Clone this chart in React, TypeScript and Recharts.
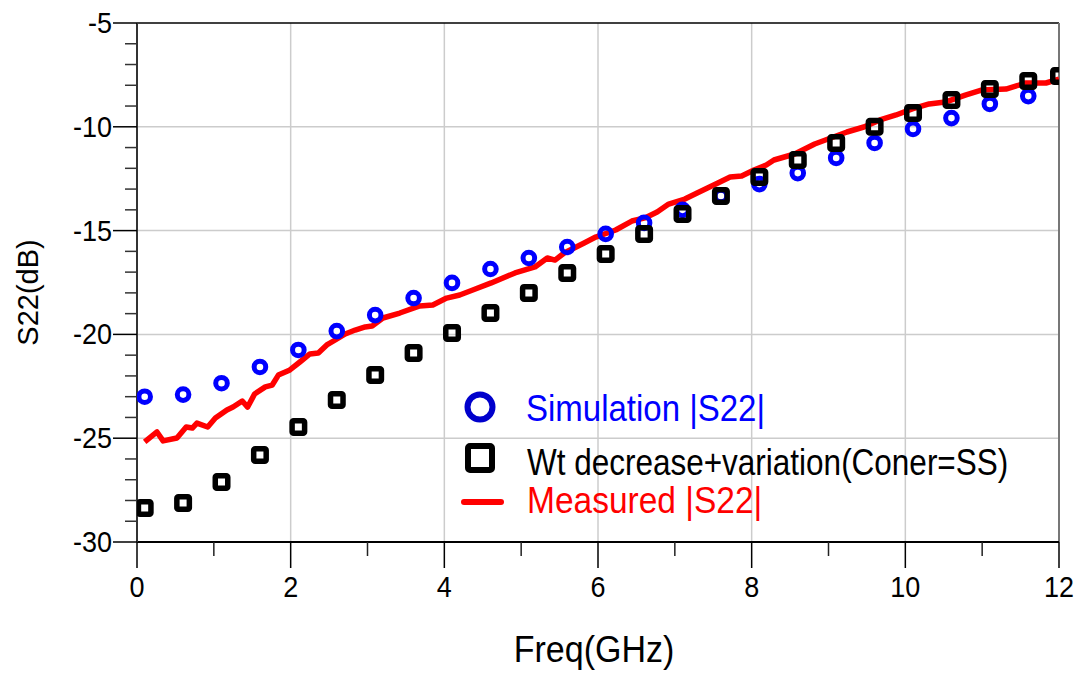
import React from "react";
import {
  ComposedChart,
  XAxis,
  YAxis,
  CartesianGrid,
  Scatter,
  Line,
  Legend,
  ReferenceLine,
  Label,
} from "recharts";

// ---- data ----
const simFreq = [0.1, 0.6, 1.1, 1.6, 2.1, 2.6, 3.1, 3.6, 4.1, 4.6, 5.1, 5.6, 6.1, 6.6, 7.1, 7.6, 8.1, 8.6, 9.1, 9.6, 10.1, 10.6, 11.1, 11.6];
const simS22 = [-23.0, -22.9, -22.35, -21.57, -20.75, -19.84, -19.07, -18.25, -17.52, -16.85, -16.32, -15.79, -15.16, -14.63, -14.0, -13.33, -12.76, -12.23, -11.5, -10.78, -10.1, -9.58, -8.9, -8.52];

const wtFreq = [0.1, 0.6, 1.1, 1.6, 2.1, 2.6, 3.1, 3.6, 4.1, 4.6, 5.1, 5.6, 6.1, 6.6, 7.1, 7.6, 8.1, 8.6, 9.1, 9.6, 10.1, 10.6, 11.1, 11.6, 12.0];
const wtS22 = [-28.36, -28.12, -27.11, -25.81, -24.46, -23.16, -21.96, -20.9, -19.93, -18.97, -18.0, -17.04, -16.13, -15.16, -14.2, -13.33, -12.42, -11.6, -10.78, -10.0, -9.34, -8.71, -8.18, -7.79, -7.55];

const measFreq = [0.1, 0.26, 0.34, 0.52, 0.64, 0.72, 0.78, 0.92, 1.02, 1.17, 1.25, 1.37, 1.44, 1.53, 1.67, 1.76, 1.84, 1.99, 2.12, 2.25, 2.36, 2.47, 2.58, 2.71, 2.84, 2.97, 3.06, 3.2, 3.42, 3.68, 3.85, 4.03, 4.2, 4.37, 4.61, 4.92, 5.18, 5.34, 5.44, 5.56, 5.82, 5.97, 6.23, 6.44, 6.61, 6.77, 6.92, 7.13, 7.29, 7.56, 7.72, 7.87, 8.03, 8.19, 8.29, 8.56, 8.82, 9.03, 9.24, 9.46, 9.67, 9.88, 10.09, 10.31, 10.52, 10.78, 10.99, 11.31, 11.57, 11.83, 12.0];
const measS22 = [-25.18, -24.7, -25.13, -24.99, -24.46, -24.51, -24.27, -24.46, -24.03, -23.64, -23.5, -23.21, -23.5, -22.87, -22.53, -22.44, -21.96, -21.71, -21.33, -20.94, -20.9, -20.51, -20.27, -19.98, -19.79, -19.64, -19.6, -19.21, -18.97, -18.63, -18.58, -18.25, -18.1, -17.86, -17.52, -17.04, -16.75, -16.32, -16.42, -16.08, -15.6, -15.31, -14.97, -14.54, -14.39, -14.1, -13.72, -13.48, -13.19, -12.71, -12.42, -12.37, -12.08, -11.84, -11.6, -11.31, -10.83, -10.54, -10.25, -10.01, -9.67, -9.43, -9.14, -8.9, -8.81, -8.47, -8.23, -8.18, -7.89, -7.89, -7.7];

const xTicks = [0, 1, 2, 3, 4, 5, 6, 7, 8, 9, 10, 11, 12];
const yTicks = [-30, -29, -28, -27, -26, -25, -24, -23, -22, -21, -20, -19, -18, -17, -16, -15, -14, -13, -12, -11, -10, -9, -8, -7, -6, -5];
const xGrid = [2, 4, 6, 8, 10];
const yGrid = [-25, -20, -15, -10];

const simLabel = "Simulation |S22|";
const wtLabel = "Wt decrease+variation(Coner=SS)";
const measLabel = "Measured |S22|";

const simData = simFreq.map((x, i) => ({ x, y: simS22[i] }));
const wtData = wtFreq.map((x, i) => ({ x, y: wtS22[i] }));
const measData = measFreq.map((x, i) => ({ x, y: measS22[i] }));

const FONT = "'Liberation Sans', Arial, Helvetica, sans-serif";

function XTick(props: any) {
  const { x, y, payload } = props;
  const v = payload.value;
  const major = v % 2 === 0;
  return (
    <g>
      <line x1={x} x2={x} y1={y} y2={y + (major ? 26 : 14)} stroke={major ? "#000" : "#222"} strokeWidth={1.5} />
      {major && (
        <g transform={`translate(${x},${y + 55}) scale(1,1.08)`}>
          <text x={0} y={0} textAnchor="middle" fontSize={27} fontFamily={FONT} fill="#000">
            {v}
          </text>
        </g>
      )}
    </g>
  );
}

function YTick(props: any) {
  const { x, y, payload } = props;
  const v = payload.value;
  const major = v % 5 === 0;
  return (
    <g>
      <line x1={x} x2={x - (major ? 24 : 12)} y1={y} y2={y} stroke={major ? "#000" : "#333"} strokeWidth={1.5} />
      {major && (
        <g transform={`translate(${x - 25},${y + 10}) scale(1,1.08)`}>
          <text x={0} y={0} textAnchor="end" fontSize={27} fontFamily={FONT} fill="#000">
            {v}
          </text>
        </g>
      )}
    </g>
  );
}

function CircleShape(props: any) {
  const { cx, cy } = props;
  if (cx == null || cy == null) return null;
  return <circle cx={cx} cy={cy} r={5.8} fill="none" stroke="#0000ff" strokeWidth={5} />;
}

function SquareShape(props: any) {
  const { cx, cy } = props;
  if (cx == null || cy == null) return null;
  const s = 12.5;
  return (
    <rect x={cx - s / 2} y={cy - s / 2} width={s} height={s} rx={1.5} fill="none" stroke="#000" strokeWidth={5.5} strokeLinejoin="round" />
  );
}

function LegendContent() {
  return (
    <svg width={640} height={145} style={{ display: "block", overflow: "visible" }}>
      <circle cx={40} cy={27} r={12.5} fill="none" stroke="#0000cc" strokeWidth={6} />
      <g transform="translate(86,41) scale(1,1.14)">
        <text x={0} y={0} fontSize={33} fontFamily={FONT} fill="#0000ff">{simLabel}</text>
      </g>
      <rect x={28} y={66} width={24} height={24} rx={2} fill="none" stroke="#000" strokeWidth={6} strokeLinejoin="round" />
      <g transform="translate(87,95) scale(1,1.17)">
        <text x={0} y={0} fontSize={31.5} fontFamily={FONT} fill="#000">{wtLabel}</text>
      </g>
      <line x1={24} x2={61} y1={122} y2={122} stroke="#ff0000" strokeWidth={6} strokeLinecap="round" />
      <g transform="translate(87,133) scale(1,1.1)">
        <text x={0} y={0} fontSize={33.5} fontFamily={FONT} fill="#ff0000">{measLabel}</text>
      </g>
    </svg>
  );
}

function XTitle(props: any) {
  const vb = props.viewBox || {};
  return (
    <g transform={`translate(${vb.x + vb.width / 2 - 4},${vb.y + 120}) scale(1,1.08)`}>
      <text x={0} y={0} textAnchor="middle" fontSize={34} fontFamily={FONT} fill="#000">
        Freq(GHz)
      </text>
    </g>
  );
}

function YTitle(props: any) {
  const vb = props.viewBox || {};
  const cy = vb.y + vb.height / 2 + 10;
  return (
    <text transform={`translate(30,${cy}) rotate(-90)`} textAnchor="middle" fontSize={29} fontFamily={FONT} fill="#000">
      S22(dB)
    </text>
  );
}

export default function App() {
  return (
    <div style={{ width: 1077, height: 665, position: "relative", background: "#fff" }}>
      <ComposedChart width={1077} height={665} margin={{ top: 15, right: 26, left: 0, bottom: 0 }}>
        <CartesianGrid
          stroke="#cccccc"
          strokeWidth={1.5}
          horizontalValues={yGrid}
          verticalValues={xGrid}
        />
        <XAxis
          type="number"
          dataKey="x"
          domain={[0, 12]}
          ticks={xTicks}
          interval={0}
          allowDataOverflow
          height={131}
          tickSize={0}
          tickMargin={0}
          tickLine={false}
          axisLine={{ stroke: "#000", strokeWidth: 2 }}
          tick={(p: any) => <XTick {...p} />}
        >
          <Label content={(p: any) => <XTitle {...p} />} />
        </XAxis>
        <YAxis
          type="number"
          dataKey="y"
          domain={[-30, -5]}
          ticks={yTicks}
          interval={0}
          allowDataOverflow
          width={129}
          tickSize={0}
          tickMargin={0}
          tickLine={false}
          axisLine={{ stroke: "#333", strokeWidth: 2 }}
          tick={(p: any) => <YTick {...p} />}
        >
          <Label content={(p: any) => <YTitle {...p} />} />
        </YAxis>
        <ReferenceLine y={-5} stroke="#000" strokeWidth={1.5} ifOverflow="visible" />
        <ReferenceLine x={12} stroke="#777" strokeWidth={2} ifOverflow="visible" />
        <Line
          data={measData}
          dataKey="y"
          name={measLabel}
          type="linear"
          stroke="#ff0000"
          strokeWidth={5.5}
          strokeLinejoin="round"
          dot={false}
          activeDot={false}
          isAnimationActive={false}
        />
        <Scatter data={simData} dataKey="y" name={simLabel} shape={(p: any) => <CircleShape {...p} />} isAnimationActive={false} />
        <Scatter data={wtData} dataKey="y" name={wtLabel} shape={(p: any) => <SquareShape {...p} />} isAnimationActive={false} />
        <Legend
          layout="horizontal"
          verticalAlign="middle"
          align="center"
          content={() => <LegendContent />}
          wrapperStyle={{ position: "absolute", left: 432, top: 372, width: 640, height: 145 }}
        />
      </ComposedChart>
    </div>
  );
}
